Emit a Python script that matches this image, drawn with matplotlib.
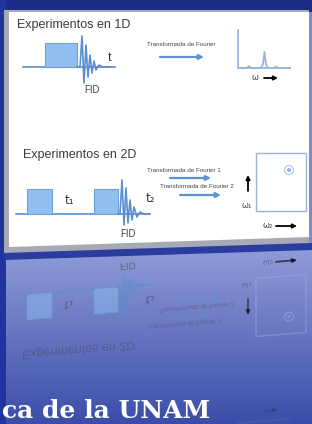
import numpy as np
import matplotlib.pyplot as plt
from matplotlib.patches import Rectangle, Polygon, Circle, FancyArrowPatch, PathPatch
from matplotlib.textpath import TextPath
from matplotlib.font_manager import FontProperties
from matplotlib.transforms import Affine2D

# textos de la diapositiva
titulo_1d = 'Experimentos en 1D'
titulo_2d = 'Experimentos en 2D'
tf_1d = 'Transformada de Fourier'
tf_2d = ['Transformada de Fourier 1', 'Transformada de Fourier 2']
pie = 'ca de la UNAM'

# FID: tiempo (px despues del pulso) y amplitud (px sobre la linea base)
fid1_t = [0, 3, 5, 7, 9, 11, 13, 15, 17, 19, 22, 26, 33]
fid1_a = [0, 0, 31, -16, 22, -10, 12, -6, 6, -3, 2, 0, 0]
fid2_t = [0, 2, 4, 6, 8, 10, 12, 14, 16, 19, 22, 26, 31]
fid2_a = [0, 0, 34, -11, 26, -9, 14, -6, 7, -3, 2, 0, 0]

# espectro 1D: frecuencia (px desde el eje) e intensidad
esp_w = [0, 9, 11, 13, 23, 25, 26.5, 28, 30, 36, 38, 40, 52]
esp_i = [0, 0, 2, 0, 0, 4, 16, 4, 0, 0, 1.5, 0, 0]

DPI = 100
W, H = 312, 424
fig = plt.figure(figsize=(W / DPI, H / DPI), dpi=DPI)
ax = fig.add_axes([0, 0, 1, 1])
ax.axis('off')

# fondo azul con degradado
yy = np.arange(H)[:, None] * np.ones((1, W))
c_arriba = np.array([141, 153, 214]) / 255
c_abajo = np.array([58, 76, 168]) / 255
t = np.clip((yy - 255) / 170, 0, 1)[..., None]
bg = c_arriba * (1 - t) + c_abajo * t
bg[:12] = np.array([28, 43, 134]) / 255
bg[:, :6] = np.array([31, 52, 156]) / 255
bg[12:250, 309:] = np.array([125, 140, 200]) / 255
ax.imshow(bg, extent=[0, W, H, 0], zorder=0, aspect='auto')

# eje del reflejo (la diapositiva esta algo inclinada)
a_ref, b_ref = 255.5, 0.042
refl = Affine2D(np.array([[1, 0, 0], [-2 * b_ref, -1, 2 * a_ref], [0, 0, 1]]))


def dibujar(tr, refleja):
    z = 1 if refleja else 3
    T = tr + ax.transData

    def al(y):
        if not refleja:
            return 1.0
        return float(np.clip(0.65 - (245 - y) * 0.0033, 0.05, 0.65))

    def linea(xs, ys, color='#5b8fcf', lw=1.2):
        ax.plot(xs, ys, color=color, lw=lw, transform=T, alpha=al(np.mean(ys)), zorder=z)

    def flecha(p0, p1, color='#5b93d3', lw=1.6, ms=7):
        ax.add_patch(FancyArrowPatch(p0, p1, arrowstyle='-|>', mutation_scale=ms, color=color,
                                     lw=lw, transform=T, alpha=al(p0[1]), zorder=z,
                                     shrinkA=0, shrinkB=0))

    def pulso(x, y, w, h):
        ax.add_patch(Rectangle((x, y), w, h, fc='#8fc0f0', ec='#6d9fd8', lw=0.8,
                               transform=T, alpha=al(y), zorder=z))

    def texto(x, y, s, pt, color='#3b3b3b', ha='left', family='Liberation Sans'):
        if not refleja:
            ax.text(x, y, s, fontsize=pt, color=color, ha=ha, va='center',
                    family=[family, 'DejaVu Sans'], zorder=z)
            return
        tp = TextPath((0, 0), s, size=pt * DPI / 72, prop=FontProperties(family=family))
        ext = tp.get_extents()
        dx = {'left': ext.x0, 'center': (ext.x0 + ext.x1) / 2, 'right': ext.x1}[ha]
        dy = (ext.y0 + ext.y1) / 2
        trt = Affine2D().translate(-dx, -dy).scale(1, -1).translate(x, y) + T
        ax.add_patch(PathPatch(tp, transform=trt, fc=color, ec='none', lw=0,
                               alpha=al(y), zorder=z))

    # --- 1D ---
    texto(17, 25, titulo_1d, 9)
    linea([23, 115], [67, 67])
    pulso(45, 43, 32, 24)
    linea([77 + v for v in fid1_t], [67 - v for v in fid1_a])
    texto(110, 58, 't', 9, '#333333', ha='center')
    texto(92, 90, 'FID', 7, '#444444', ha='center')
    texto(181, 45, tf_1d, 4.5, '#444444', ha='center')
    flecha((160, 57), (204, 57))
    linea([238, 238, 290], [30, 68, 68], color='#9ab6dc', lw=1.3)
    linea([238 + v for v in esp_w], [68 - v for v in esp_i], color='#9ab6dc', lw=1.3)
    texto(255, 78, 'ω', 6, '#444444', ha='center', family='DejaVu Sans')
    flecha((264, 78), (278, 78), color='black', lw=1.3, ms=6)

    # --- 2D ---
    texto(23, 155, titulo_2d, 9)
    linea([16, 150], [214, 214])
    pulso(27, 189, 25, 25)
    pulso(94, 189, 24, 25)
    linea([118 + v for v in fid2_t], [214 - v for v in fid2_a])
    texto(69, 200, 't₁', 8.5, '#333333', ha='center', family='DejaVu Sans')
    texto(150, 198, 't₂', 8.5, '#333333', ha='center', family='DejaVu Sans')
    texto(128, 234, 'FID', 7, '#444444', ha='center')
    texto(184, 171, tf_2d[0], 4.5, '#444444', ha='center')
    flecha((170, 178), (211, 178))
    texto(197, 187, tf_2d[1], 4.5, '#444444', ha='center')
    flecha((180, 195), (221, 195))
    flecha((248, 191), (248, 175), color='black', lw=1.3, ms=6)
    texto(247, 205, 'ω₁', 6, '#444444', ha='center', family='DejaVu Sans')
    ax.add_patch(Rectangle((256, 153), 50, 58, fc='none', ec='#9fb4d4', lw=1,
                           transform=T, alpha=al(180), zorder=z))
    ax.add_patch(Circle((289, 170), 4.5, fc='none', ec='#a9c6ea', lw=0.8,
                        transform=T, alpha=al(170), zorder=z))
    ax.add_patch(Circle((289, 170), 2, fc='#8cb4e4', ec='none',
                        transform=T, alpha=al(170), zorder=z))
    texto(268, 226, 'ω₂', 6, '#444444', ha='center', family='DejaVu Sans')
    flecha((276, 226), (297, 226), color='black', lw=1.3, ms=6)


# reflejo en la parte inferior
dibujar(refl, True)

# diapositiva blanca con sombra
ax.add_patch(Polygon([(4, 10), (309, 10), (309, 243), (4, 253)], fc='#a7a9b4', ec='none', zorder=2))
ax.add_patch(Polygon([(9, 12), (309, 12), (309, 237), (9, 247)], fc='white', ec='none', zorder=2))
ax.add_patch(Polygon([(4, 253), (312, 243), (312, 250), (4, 260)], fc='#2a3d9f', ec='none', zorder=2))
dibujar(Affine2D(), False)

ax.text(2, 423, pie, ha='left', va='bottom', fontsize=18, weight='bold',
        family='DejaVu Serif', color='white', zorder=5)

ax.set_xlim(0, W)
ax.set_ylim(H, 0)
fig.savefig('out.png', dpi=DPI)
